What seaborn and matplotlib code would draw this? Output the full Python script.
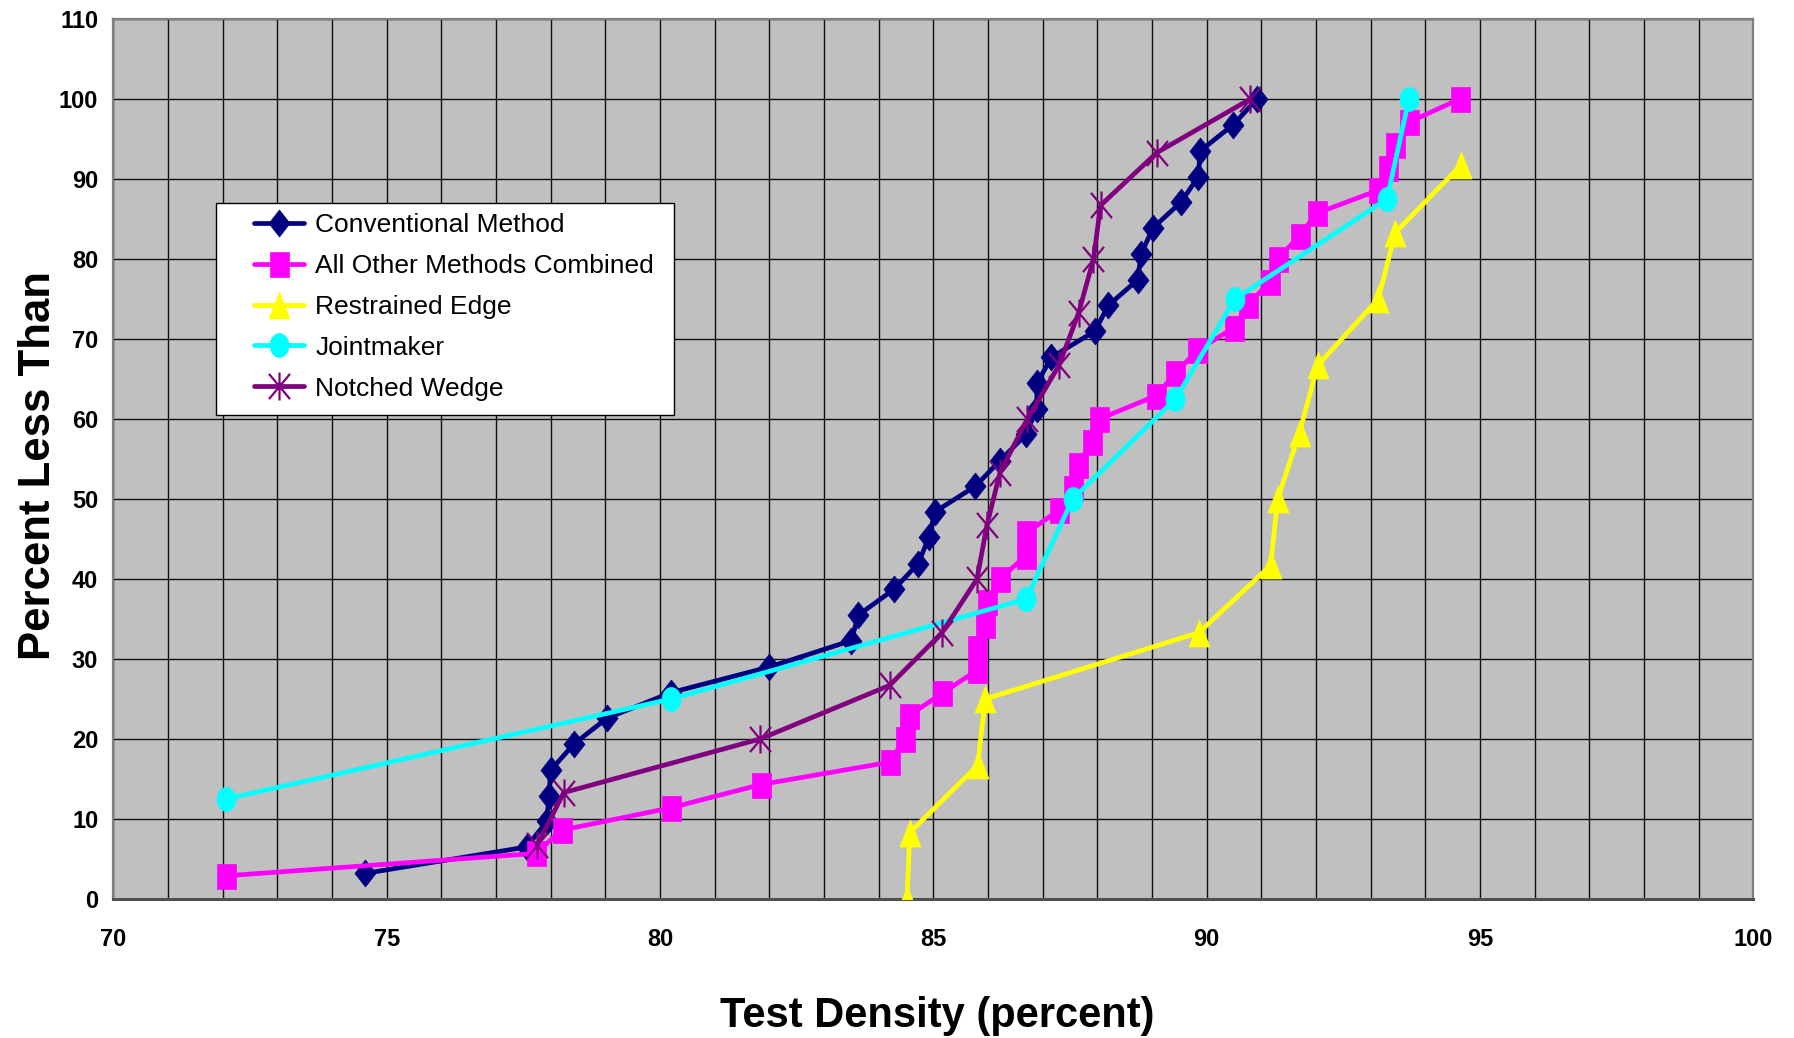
import numpy as np
import pandas as pd
import matplotlib
matplotlib.use("Agg")
import matplotlib.pyplot as plt
import seaborn as sns
from matplotlib.path import Path
from matplotlib.patches import Rectangle
from matplotlib import font_manager as fm

# ---------------- data ----------------
conv_x = [74.6, 77.56, 77.93, 77.97, 78.0, 78.43, 79.03, 80.2, 82.0, 83.5, 83.63,
          84.28, 84.72, 84.92, 85.03, 85.77, 86.22, 86.7, 86.89, 86.9, 87.16,
          87.96, 88.2, 88.74, 88.8, 89.02, 89.53, 89.85, 89.88, 90.49, 90.92]
conv_y = [3.2, 6.5, 9.7, 12.9, 16.1, 19.4, 22.6, 25.8, 29.0, 32.3, 35.5, 38.7,
          41.9, 45.2, 48.4, 51.6, 54.8, 58.1, 61.3, 64.5, 67.7, 71.0, 74.2, 77.4,
          80.6, 83.9, 87.1, 90.3, 93.5, 96.8, 100.0]

other_x = [72.06, 77.73, 78.2, 80.2, 81.84, 84.2, 84.48, 84.55, 85.16, 85.8, 85.8,
           85.95, 85.98, 86.22, 86.69, 86.69, 87.3, 87.55, 87.65, 87.9, 88.04,
           89.07, 89.43, 89.83, 90.5, 90.76, 91.15, 91.3, 91.7, 92.01, 93.14,
           93.31, 93.45, 93.7, 94.63]
other_y = [2.9, 5.7, 8.6, 11.4, 14.3, 17.1, 20.0, 22.9, 25.7, 28.6, 31.4, 34.3,
           37.1, 40.0, 42.9, 45.7, 48.6, 51.4, 54.3, 57.1, 60.0, 62.9, 65.7, 68.6,
           71.4, 74.3, 77.1, 80.0, 82.9, 85.7, 88.6, 91.4, 94.3, 97.1, 100.0]

restr_x = [84.52, 84.57, 85.81, 85.95, 89.86, 91.17, 91.3, 91.7, 92.03, 93.14,
           93.45, 94.65]
restr_y = [0.0, 8.3, 16.7, 25.0, 33.3, 41.7, 50.0, 58.3, 66.7, 75.0, 83.3, 91.7]

joint_x = [72.06, 80.2, 86.7, 87.55, 89.43, 90.52, 93.3, 93.7]
joint_y = [12.5, 25.0, 37.5, 50.0, 62.5, 75.0, 87.5, 100.0]

notch_x = [77.75, 78.24, 81.83, 84.2, 85.16, 85.8, 85.98, 86.22, 86.72, 87.3,
           87.66, 87.93, 88.06, 89.09, 90.8]
notch_y = [6.7, 13.3, 20.0, 26.7, 33.3, 40.0, 46.7, 53.3, 60.0, 66.7, 73.3, 80.0,
           86.7, 93.3, 100.0]

series_names = ["Conventional Method", "All Other Methods Combined",
                "Restrained Edge", "Jointmaker", "Notched Wedge"]
x_ticks = [70, 75, 80, 85, 90, 95, 100]
y_ticks = [0, 10, 20, 30, 40, 50, 60, 70, 80, 90, 100, 110]

# ---------------- fonts ----------------
names = {f.name for f in fm.fontManager.ttflist}
HAS_NARROW = "Liberation Sans Narrow" in names
NARROW = "Liberation Sans Narrow" if HAS_NARROW else "Liberation Sans"

sns.set_style("white")
plt.rcParams["font.family"] = ["Liberation Sans", "DejaVu Sans"]
plt.rcParams["text.color"] = "black"

# ---------------- markers (slightly taller than wide, like the source) ----------------
t = np.linspace(0, 2 * np.pi, 48)
m_diamond = [(0, 1), (0.78, 0), (0, -1), (-0.78, 0), (0, 1)]
m_square = [(-0.76, -1), (0.76, -1), (0.76, 1), (-0.76, 1), (-0.76, -1)]
m_tri = [(0, 1), (0.78, -1), (-0.78, -1), (0, 1)]
m_ell = list(zip(0.79 * np.cos(t), np.sin(t)))
m_star = Path([(0, -1), (0, 1), (-0.75, -0.9), (0.75, 0.9), (-0.75, 0.9), (0.75, -0.9)],
              [Path.MOVETO, Path.LINETO, Path.MOVETO, Path.LINETO, Path.MOVETO, Path.LINETO])

PT = 72.0 / 100.0  # points per pixel at dpi 100

fig = plt.figure(figsize=(17.94, 10.38), dpi=100)
fig.patch.set_facecolor("white")
L, R, T, B = 113.3, 1753.3, 19.0, 899.0
ax = fig.add_axes([L / 1794, 1 - B / 1038, (R - L) / 1794, (B - T) / 1038])
ax.set_facecolor("#C0C0C0")

specs = [
    (conv_x, conv_y, "#000080", m_diamond, 27, "#000080"),
    (other_x, other_y, "#FF00FF", m_square, 25, "#FF00FF"),
    (restr_x, restr_y, "#FFFF00", m_tri, 27, "#FFFF00"),
    (joint_x, joint_y, "#00FFFF", m_ell, 24, "#00FFFF"),
    (notch_x, notch_y, "#800080", m_star, 28, "none"),
]
for i, ((xs, ys, col, mk, msz, mfc), name) in enumerate(zip(specs, series_names)):
    df = pd.DataFrame({"x": xs, "y": ys})
    sns.lineplot(data=df, x="x", y="y", ax=ax, sort=False, estimator=None,
                 color=col, linewidth=3.4, marker=mk, markersize=msz * PT,
                 markerfacecolor=mfc, markeredgecolor=col,
                 markeredgewidth=(1.6 if mfc == "none" else 0.5),
                 label=name, zorder=3 + i,
                 solid_joinstyle="round", solid_capstyle="round")

ax.set_xlim(70, 100)
ax.set_ylim(0, 110)
ax.set_xticks(x_ticks)
ax.set_xticks(np.arange(70, 101, 1), minor=True)
ax.set_yticks(y_ticks)
ax.grid(True, which="both", axis="x", color="#101010", linewidth=1.0)
ax.grid(True, which="major", axis="y", color="#101010", linewidth=1.0)
ax.set_axisbelow(True)

tick_size = 18.4 if HAS_NARROW else 17.0
tick_font = dict(family=NARROW, weight="bold", size=tick_size, color="black")
ax.set_xticklabels([str(v) for v in x_ticks], fontdict=tick_font)
ax.set_yticklabels([str(v) for v in y_ticks], fontdict=tick_font)
ax.tick_params(axis="both", which="major", direction="out", length=6 * PT,
               width=1.4, color="#707070", labelcolor="black")
ax.tick_params(axis="x", which="major", pad=16.5)
ax.tick_params(axis="y", which="major", pad=6.5)
ax.tick_params(axis="x", which="minor", length=0)
ax.set_xlabel("")
ax.set_ylabel("")
for s in ["top", "right", "left"]:
    ax.spines[s].set_color("#808080")
    ax.spines[s].set_linewidth(1.6)
ax.spines["bottom"].set_color("#505050")
ax.spines["bottom"].set_linewidth(2.2)

# legend: white box and entries
box_x0, box_x1 = (215.7 - L) / (R - L), (674.0 - L) / (R - L)
box_y0, box_y1 = (B - 415.0) / (B - T), (B - 202.7) / (B - T)
ax.add_patch(Rectangle((box_x0, box_y0), box_x1 - box_x0, box_y1 - box_y0,
                       transform=ax.transAxes, facecolor="white",
                       edgecolor="black", linewidth=1.0, zorder=20))
leg_size = 21.6 if HAS_NARROW else 19.0
leg = ax.legend(loc="upper left",
                bbox_to_anchor=((254.0 - L) / (R - L), (B - 213.0) / (B - T)),
                borderaxespad=0, borderpad=0, frameon=False, handlelength=1.9,
                handletextpad=0.42, labelspacing=0.64, numpoints=1,
                prop=dict(family=NARROW, size=leg_size))
for txt in leg.get_texts():
    txt.set_color("black")
leg.set_zorder(21)

# axis titles
fig.text(50 / 1794, 1 - 465 / 1038, "Percent Less Than", rotation=90,
         rotation_mode="anchor", ha="center", va="baseline",
         fontsize=31.5, fontweight="bold", family="Liberation Sans", color="black")
fig.text(937 / 1794, 1 - 1026.7 / 1038, "Test Density (percent)",
         ha="center", va="baseline", fontsize=(34.5 if HAS_NARROW else 30.0),
         fontweight="bold", family=NARROW, color="black")

fig.savefig("out.png", dpi=100)
